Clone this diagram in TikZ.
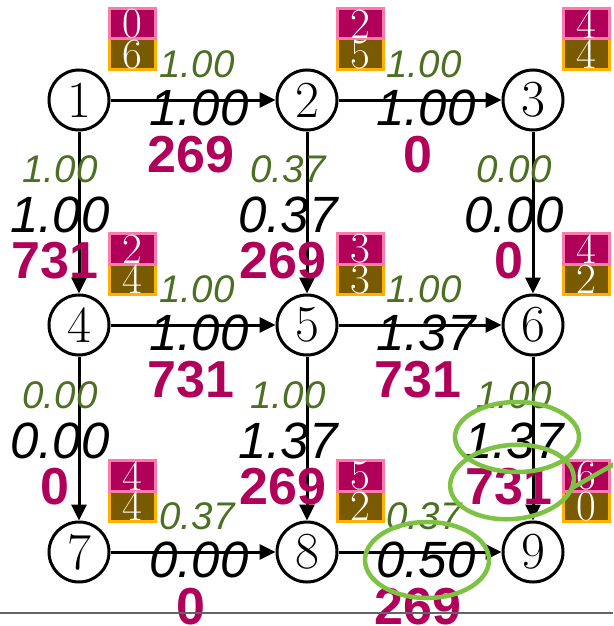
\documentclass[tikz,border=0pt]{standalone}
\usepackage{fontspec}
\setsansfont{Liberation Sans}
\usetikzlibrary{arrows.meta}
\definecolor{lblgreen}{RGB}{76,111,36}
\definecolor{lblmag}{RGB}{176,0,90}
\definecolor{pinkfill}{RGB}{176,0,90}
\definecolor{pinkline}{RGB}{255,122,172}
\definecolor{brownfill}{RGB}{122,90,0}
\definecolor{orangeline}{RGB}{255,176,0}
\definecolor{hlgreen}{RGB}{125,194,66}
\definecolor{rulegray}{RGB}{100,100,100}
\newcommand\cntbox[3]{%
  \begin{scope}[shift={(#1)}]
    \draw[line width=3pt, draw=orangeline, fill=brownfill] (30.5,-61) rectangle (76.5,-30.5);
    \draw[line width=3pt, draw=pinkline, fill=pinkfill] (30.5,-91.5) rectangle (76.5,-61);
    \node[boxnum] (#1top) at (53.5,-76) {#2};
    \node[boxnum] (#1bot) at (53.5,-45.5) {#3};
  \end{scope}}
\begin{document}
\begin{tikzpicture}[x=1pt,y=-1pt,
  vertex/.style={circle, draw, line width=3pt, minimum size=60pt, inner sep=0pt,
    font=\fontsize{52}{52}\selectfont},
  conn/.style={line width=3pt, -{Triangle[length=16pt,width=15pt]}},
  gl/.style={text=lblgreen, inner sep=0pt, font=\fontsize{38.5}{38.5}\selectfont\sffamily\itshape},
  bl/.style={text=black, inner sep=0pt, font=\fontsize{51}{51}\selectfont\sffamily\itshape},
  ml/.style={text=lblmag, inner sep=0pt, font=\fontsize{52}{52}\selectfont\sffamily\bfseries},
  hgl/.style={gl, xshift=4pt, yshift=35.5pt},
  hbl/.style={bl, xshift=6pt, yshift=-8pt},
  hml/.style={ml, xshift=-2pt, yshift=-55pt},
  vgl/.style={gl, xshift=-19pt, yshift=43pt},
  vbl/.style={bl, xshift=-19pt, yshift=-2pt},
  vml/.style={ml, xshift=-24pt, yshift=-48pt},
  boxnum/.style={text=white, inner sep=0pt, font=\fontsize{43}{43}\selectfont},
  hl/.style={draw=hlgreen, line width=4.5pt}]
\useasboundingbox (0,0) rectangle (613,626);
\clip (0,0) rectangle (613,626);

\node[vertex] (n1) at (79,100) {1};
\node[vertex] (n2) at (307,100) {2};
\node[vertex] (n3) at (533,100) {3};
\node[vertex] (n4) at (79,325) {4};
\node[vertex] (n5) at (307,325) {5};
\node[vertex] (n6) at (533,325) {6};
\node[vertex] (n7) at (79,552) {7};
\node[vertex] (n8) at (307,552) {8};
\node[vertex] (n9) at (533,552) {9};

\cntbox{n1}{0}{6}
\cntbox{n2}{2}{5}
\cntbox{n3}{4}{4}
\cntbox{n4}{2}{4}
\cntbox{n5}{3}{3}
\cntbox{n6}{4}{2}
\cntbox{n7}{4}{4}
\cntbox{n8}{5}{2}
\cntbox{n9}{6}{0}

% horizontal edges
\draw[conn] (n1) -- node[hgl] (g12) {1.00} node[hbl] (b12) {1.00} node[hml] (m12) {269} (n2);
\draw[conn] (n2) -- node[hgl] (g23) {1.00} node[hbl] (b23) {1.00} node[hml] (m23) {0} (n3);
\draw[conn] (n4) -- node[hgl] (g45) {1.00} node[hbl] (b45) {1.00} node[hml] (m45) {731} (n5);
\draw[conn] (n5) -- node[hgl] (g56) {1.00} node[hbl] (b56) {1.37} node[hml] (m56) {731} (n6);
\draw[conn] (n7) -- node[hgl] (g78) {0.37} node[hbl] (b78) {0.00} node[hml] (m78) {0} (n8);
\draw[conn] (n8) -- node[hgl] (g89) {0.37} node[hbl] (b89) {0.50} node[hml] (m89) {269} (n9);

% vertical edges
\draw[conn] (n1) -- node[vgl] (g14) {1.00} node[vbl] (b14) {1.00} node[vml] (m14) {731} (n4);
\draw[conn] (n2) -- node[vgl] (g25) {0.37} node[vbl] (b25) {0.37} node[vml] (m25) {269} (n5);
\draw[conn] (n3) -- node[vgl] (g36) {0.00} node[vbl] (b36) {0.00} node[vml] (m36) {0} (n6);
\draw[conn] (n4) -- node[vgl] (g47) {0.00} node[vbl] (b47) {0.00} node[vml] (m47) {0} (n7);
\draw[conn] (n5) -- node[vgl] (g58) {1.00} node[vbl] (b58) {1.37} node[vml] (m58) {269} (n8);
\draw[conn] (n6) -- node[vgl] (g69) {1.00} node[vbl] (b69) {1.37} node[vml] (m69) {731} (n9);

% bottom rule
\draw[draw=rulegray, line width=2pt] (0,613) -- (613,613);

% highlights
\draw[hl] (517,437) ellipse [x radius=62, y radius=35];
\draw[hl, rotate around={5:(512,482)}] (512,482) ellipse [x radius=62, y radius=37];
\draw[hl] (427,560) ellipse [x radius=62, y radius=38];
\coordinate (p1) at (572,488);
\coordinate (p2) at (625,458);
\draw[hl] (p1) -- (p2);
\end{tikzpicture}
\end{document}
